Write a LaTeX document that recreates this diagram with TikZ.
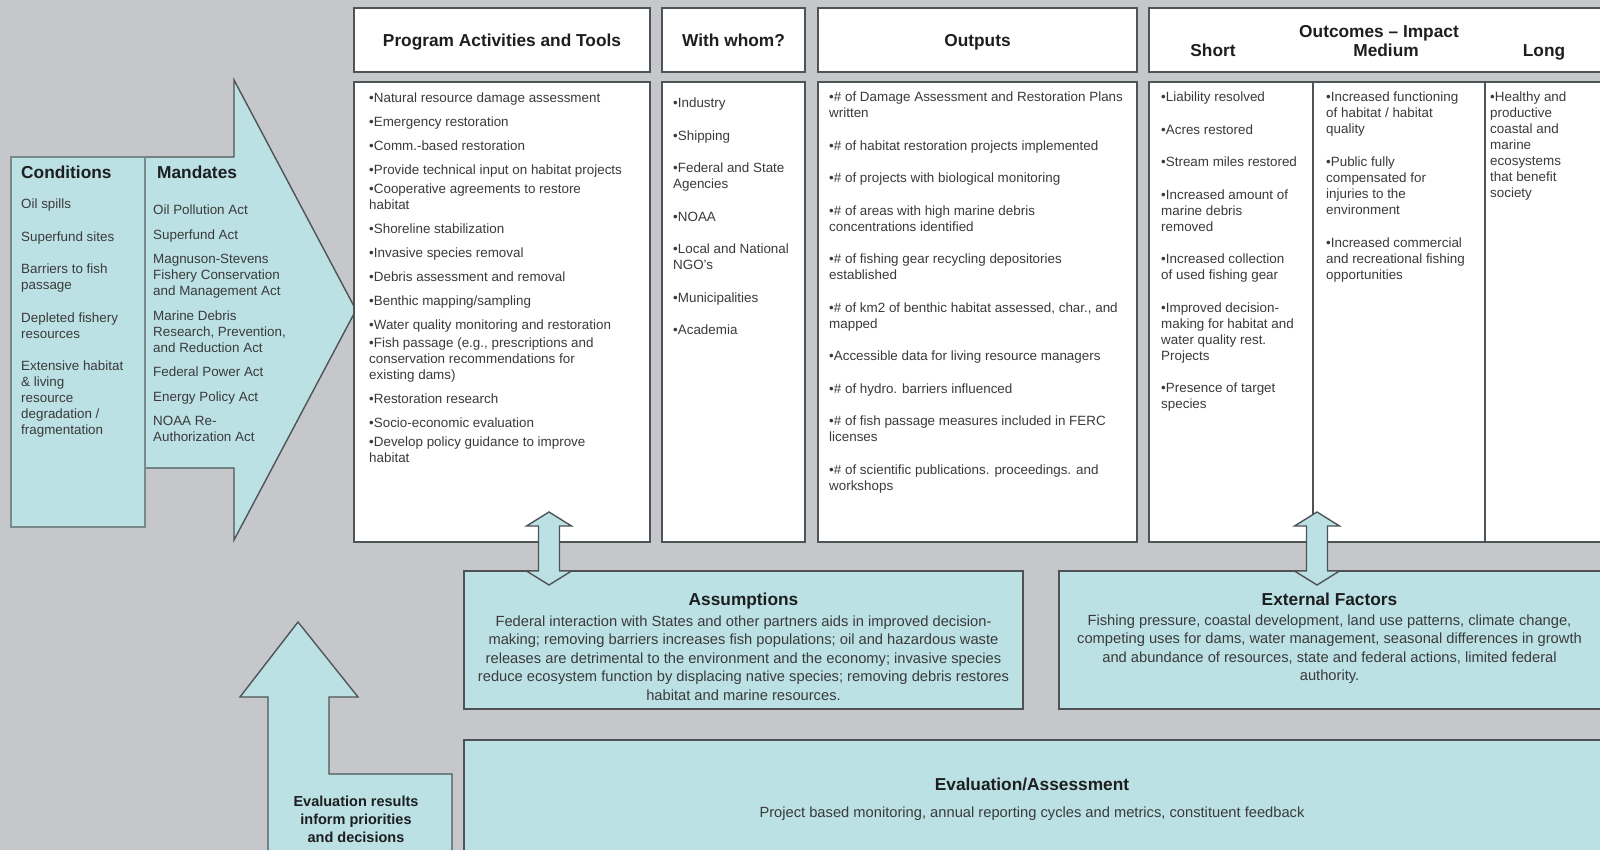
\documentclass[tikz,border=0pt]{standalone}
\usepackage{fontspec}
\setmainfont{Liberation Sans}
\definecolor{bgc}{RGB}{197,199,202}
\definecolor{tealc}{RGB}{188,225,228}
\definecolor{bordc}{RGB}{78,84,86}
\definecolor{condc}{RGB}{120,138,140}
\definecolor{txtc}{RGB}{58,58,58}
\definecolor{hdc}{RGB}{28,30,32}
\begin{document}
\begin{tikzpicture}[x=1pt,y=-1pt,
  whitebox/.style={draw=bordc,line width=1.4pt,fill=white},
  tealbox/.style={draw=bordc,line width=1.4pt,fill=tealc},
  bodytext/.style={inner sep=0pt,anchor=north west,align=left,text=txtc,font=\fontsize{13.4}{16}\selectfont},
  headtext/.style={inner sep=0pt,anchor=base,text=hdc,font=\fontsize{17.3}{20}\selectfont\bfseries},
  paratext/.style={inner sep=0pt,anchor=north,align=center,text=txtc,font=\fontsize{14.7}{18.5}\selectfont},
  evaltext/.style={inner sep=0pt,anchor=north,align=center,text=hdc,font=\fontsize{14.5}{18}\selectfont\bfseries}]
\useasboundingbox (0,0) rectangle (1600,850);
\clip (0,0) rectangle (1600,850);
\fill[bgc] (0,0) rectangle (1600,850);

% left side: mandates arrow and conditions
\filldraw[tealbox] (145,157) -- (234,157) -- (234,80) -- (356,310) -- (234,540) -- (234,468) -- (145,468) -- cycle;
\filldraw[fill=tealc,draw=condc,line width=1.8pt] (11,157) rectangle (145,527);

% header boxes
\filldraw[whitebox] (354,8) rectangle (650,72);
\filldraw[whitebox] (662,8) rectangle (805,72);
\filldraw[whitebox] (818,8) rectangle (1137,72);
\filldraw[whitebox] (1149,8) rectangle (1612,72);
% body boxes
\filldraw[whitebox] (354,82) rectangle (650,542);
\filldraw[whitebox] (662,82) rectangle (805,542);
\filldraw[whitebox] (818,82) rectangle (1137,542);
\filldraw[whitebox] (1149,82) rectangle (1612,542);
\draw[bordc,line width=1.2pt] (1313,82) -- (1313,542);
\draw[bordc,line width=1.2pt] (1485,82) -- (1485,542);

% lower boxes
\filldraw[tealbox] (464,571) rectangle (1023,709);
\filldraw[tealbox] (1059,571) rectangle (1612,709);
\filldraw[tealbox] (464,740) rectangle (1612,862);

% double arrows
\filldraw[tealbox] (549,512) -- (571.5,526) -- (559.5,526) -- (559.5,571) -- (571.5,571) -- (549,585) -- (526.5,571) -- (538.5,571) -- (538.5,526) -- (526.5,526) -- cycle;
\filldraw[tealbox] (1317,512) -- (1339.5,526) -- (1327.5,526) -- (1327.5,571) -- (1339.5,571) -- (1317,585) -- (1294.5,571) -- (1306.5,571) -- (1306.5,526) -- (1294.5,526) -- cycle;

% evaluation arrow
\filldraw[tealbox] (268,862) -- (268,697) -- (240,697) -- (298,622) -- (358,697) -- (329,697) -- (329,774) -- (452,774) -- (452,862) -- cycle;

% headers
\node[headtext] (hprog) at (502,47) {Program Activities and Tools};
\node[headtext] (hwho) at (733.5,47) {With whom?};
\node[headtext] (hout) at (977.5,47) {Outputs};
\node[headtext] (houtc) at (1379,38) {Outcomes – Impact};
\node[headtext] (hshort) at (1213,57) {Short};
\node[headtext] (hmed) at (1386,57) {Medium};
\node[headtext] (hlong) at (1544,57) {Long};
\node[headtext,anchor=base west] (hcond) at (21,179) {Conditions};
\node[headtext,anchor=base west] (hmand) at (157,179) {Mandates};

% body texts
\node[bodytext] (tprog) at (369,91.3) {\strut•Natural resource damage assessment\\[8pt]
•Emergency restoration\\[8pt]
•Comm.-based restoration\\[8pt]
•Provide technical input on habitat projects\\[2.5pt]
•Cooperative agreements to restore\\
habitat\\[8pt]
•Shoreline stabilization\\[8pt]
•Invasive species removal\\[8pt]
•Debris assessment and removal\\[8pt]
•Benthic mapping/sampling\\[8pt]
•Water quality monitoring and restoration\\[2.5pt]
•Fish passage (e.g., prescriptions and\\
conservation recommendations for\\
existing dams)\\[8pt]
•Restoration research\\[8pt]
•Socio-economic evaluation\\[2.5pt]
•Develop policy guidance to improve\\
habitat};

\node[bodytext] (twho) at (673,96.3) {\strut•Industry\\[16.5pt]
•Shipping\\[16.5pt]
•Federal and State\\
Agencies\\[16.5pt]
•NOAA\\[16.5pt]
•Local and National\\
NGO's\\[16.5pt]
•Municipalities\\[16.5pt]
•Academia};

\node[bodytext] (tout) at (829,90.3) {\strut•\# of Damage Assessment and Restoration Plans\\
written\\[16.5pt]
•\# of habitat restoration projects implemented\\[16.5pt]
•\# of projects with biological monitoring\\[16.5pt]
•\# of areas with high marine debris\\
concentrations identified\\[16.5pt]
•\# of fishing gear recycling depositories\\
established\\[16.5pt]
•\# of km2 of benthic habitat assessed, char., and\\
mapped\\[16.5pt]
•Accessible data for living resource managers\\[16.5pt]
•\# of hydro. barriers influenced\\[16.5pt]
•\# of fish passage measures included in FERC\\
licenses\\[16.5pt]
•\# of scientific publications. proceedings. and\\
workshops};

\node[bodytext] (tshort) at (1161,90.3) {\strut•Liability resolved\\[16.5pt]
•Acres restored\\[16.5pt]
•Stream miles restored\\[16.5pt]
•Increased amount of\\
marine debris\\
removed\\[16.5pt]
•Increased collection\\
of used fishing gear\\[16.5pt]
•Improved decision-\\
making for habitat and\\
water quality rest.\\
Projects\\[16.5pt]
•Presence of target\\
species};

\node[bodytext] (tmed) at (1326,90.3) {\strut•Increased functioning\\
of habitat / habitat\\
quality\\[16.5pt]
•Public fully\\
compensated for\\
injuries to the\\
environment\\[17.5pt]
•Increased commercial\\
and recreational fishing\\
opportunities};

\node[bodytext] (tlong) at (1490,90.3) {\strut•Healthy and\\
productive\\
coastal and\\
marine\\
ecosystems\\
that benefit\\
society};

\node[bodytext] (tcond) at (21,197.3) {\strut Oil spills\\[16.5pt]
Superfund sites\\[16.5pt]
Barriers to fish\\
passage\\[16.5pt]
Depleted fishery\\
resources\\[16.5pt]
Extensive habitat\\
\& living\\
resource\\
degradation /\\
fragmentation};

\node[bodytext] (tmand) at (153,203.3) {\strut Oil Pollution Act\\[8.5pt]
Superfund Act\\[8.5pt]
Magnuson-Stevens\\
Fishery Conservation\\
and Management Act\\[8.5pt]
Marine Debris\\
Research, Prevention,\\
and Reduction Act\\[8.5pt]
Federal Power Act\\[8.5pt]
Energy Policy Act\\[8.5pt]
NOAA Re-\\
Authorization Act};

% lower texts
\node[headtext] (hass) at (743.5,605) {Assumptions};
\node[paratext] (tass) at (743.5,613) {\strut Federal interaction with States and other partners aids in improved decision-\\
making; removing barriers increases fish populations; oil and hazardous waste\\
releases are detrimental to the environment and the economy; invasive species\\
reduce ecosystem function by displacing native species; removing debris restores\\
habitat and marine resources.};

\node[headtext] (hext) at (1329.5,605) {External Factors};
\node[paratext] (text) at (1329.5,612) {\strut Fishing pressure, coastal development, land use patterns, climate change,\\
competing uses for dams, water management, seasonal differences in growth\\
and abundance of resources, state and federal actions, limited federal\\
authority.};

\node[headtext] (heval) at (1032,790) {Evaluation/Assessment};
\node[paratext,anchor=base] (teval) at (1032,817) {Project based monitoring, annual reporting cycles and metrics, constituent feedback};

\node[evaltext] (tres) at (356,793.4) {\strut Evaluation results\\inform priorities\\and decisions};
\end{tikzpicture}
\end{document}
